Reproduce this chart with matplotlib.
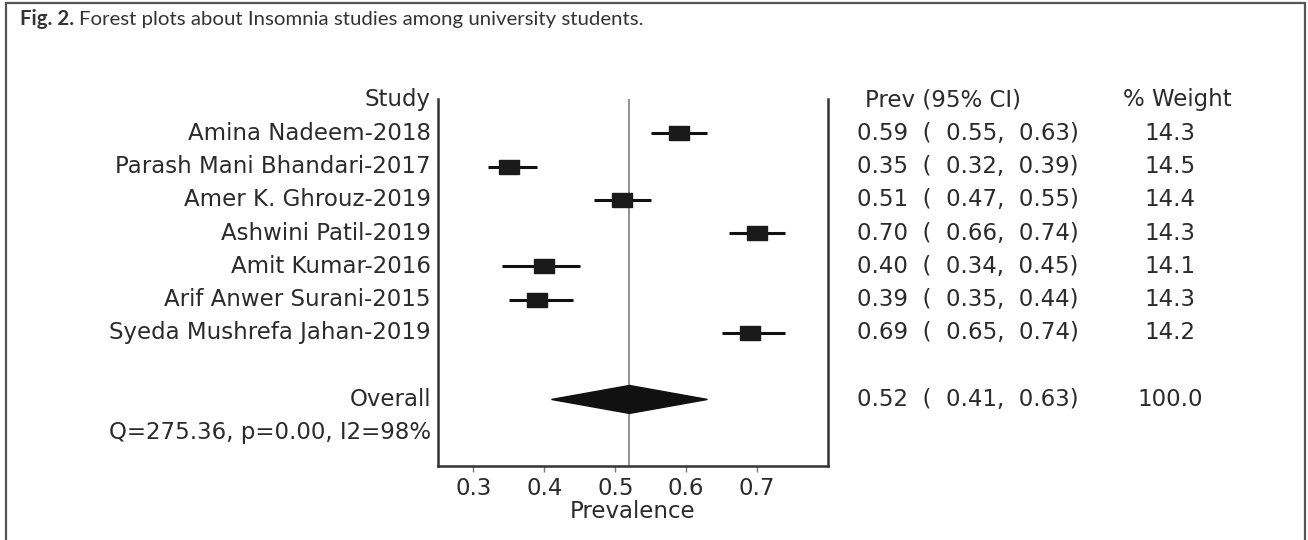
import matplotlib
matplotlib.use("Agg")
import matplotlib.pyplot as plt
from matplotlib.patches import Polygon, Rectangle
from matplotlib.transforms import blended_transform_factory

plt.rcParams["font.family"] = ["DejaVu Sans"]

# data
studies = ["Amina Nadeem-2018", "Parash Mani Bhandari-2017", "Amer K. Ghrouz-2019",
           "Ashwini Patil-2019", "Amit Kumar-2016", "Arif Anwer Surani-2015",
           "Syeda Mushrefa Jahan-2019"]
prev = [0.59, 0.35, 0.51, 0.70, 0.40, 0.39, 0.69]
ci_low = [0.55, 0.32, 0.47, 0.66, 0.34, 0.35, 0.65]
ci_high = [0.63, 0.39, 0.55, 0.74, 0.45, 0.44, 0.74]
weights = [14.3, 14.5, 14.4, 14.3, 14.1, 14.3, 14.2]
overall = 0.52
overall_low = 0.41
overall_high = 0.63
overall_weight = 100.0
het_text = "Q=275.36, p=0.00, I2=98%"
x_ticks = [0.3, 0.4, 0.5, 0.6, 0.7]

txt_col = "#2b2b2b"
fs = 16.5

fig = plt.figure(figsize=(13.08, 5.40), dpi=100)
ax = fig.add_axes([438 / 1308, 74 / 540, 390 / 1308, 367 / 540])

rows = list(range(1, len(studies) + 1))
overall_row = len(studies) + 2
het_row = overall_row + 1

# confidence intervals and the study squares (wider than tall, as in the picture)
box = [(-1.35, -1), (1.35, -1), (1.35, 1), (-1.35, 1), (-1.35, -1)]
ax.hlines(rows, ci_low, ci_high, color="#111111", lw=2.2, zorder=3)
ax.scatter(prev, rows, marker=box, s=19 ** 2 * 0.52, color="#1a1a1a", zorder=4)

# overall diamond
diamond = Polygon([(overall_low, overall_row), (overall, overall_row - 0.42),
                   (overall_high, overall_row), (overall, overall_row + 0.42)],
                  closed=True, color="#111111", zorder=4)
ax.add_patch(diamond)
ax.axvline(overall, color="#8a8a8a", lw=1.3, zorder=2)

ax.set_xlim(0.25, 0.80)
ax.set_ylim(11.0, -0.03)
ax.set_xticks(x_ticks)
ax.set_xticklabels([f"{v:.1f}" for v in x_ticks])
ax.set_yticks([])
ax.tick_params(axis="x", direction="out", length=4, width=1, color="#777777",
               labelsize=fs, labelcolor=txt_col, pad=4)
ax.set_xlabel("Prevalence", fontsize=fs, color=txt_col, labelpad=0)
ax.spines["top"].set_visible(False)
for s in ["left", "right", "bottom"]:
    ax.spines[s].set_linewidth(1.8)
    ax.spines[s].set_color("#333333")

# left labels and right-hand table
tr = blended_transform_factory(fig.transFigure, ax.transData)
lx = 431 / 1308
ax.text(lx, 0, "Study", transform=tr, ha="right", va="center", fontsize=fs, color=txt_col)
for r, name in zip(rows, studies):
    ax.text(lx, r, name, transform=tr, ha="right", va="center", fontsize=fs, color=txt_col)
ax.text(lx, overall_row, "Overall", transform=tr, ha="right", va="center", fontsize=fs, color=txt_col)
ax.text(lx, het_row, het_text, transform=tr, ha="right", va="center", fontsize=fs, color=txt_col)

cx = 857 / 1308
wx = 1170 / 1308
ax.text(865 / 1308, 0, "Prev (95% CI)", transform=tr, ha="left", va="center", fontsize=fs, color=txt_col)
ax.text(1177 / 1308, 0, "% Weight", transform=tr, ha="center", va="center", fontsize=fs, color=txt_col)
for r, p, lo, hi, w in zip(rows, prev, ci_low, ci_high, weights):
    ax.text(cx, r, f"{p:.2f}  (  {lo:.2f},  {hi:.2f})", transform=tr, ha="left",
            va="center", fontsize=fs, color=txt_col)
    ax.text(wx, r, f"{w:.1f}", transform=tr, ha="center", va="center", fontsize=fs, color=txt_col)
ax.text(cx, overall_row, f"{overall:.2f}  (  {overall_low:.2f},  {overall_high:.2f})",
        transform=tr, ha="left", va="center", fontsize=fs, color=txt_col)
ax.text(wx, overall_row, f"{overall_weight:.1f}", transform=tr, ha="center",
        va="center", fontsize=fs, color=txt_col)

# caption and frame
fig.add_artist(Rectangle((6 / 1308, -0.05), 1299 / 1308, 1.05 - 3 / 540,
                         transform=fig.transFigure, fill=False, lw=1.6, ec="#555555"))
t1 = fig.text(20 / 1308, 1 - 19 / 540, "Fig. 2.", fontsize=14.7, fontweight="bold",
              family="Lato", color="#333333", va="center")
fig.canvas.draw()
bb = t1.get_window_extent()
fig.text((bb.x1 + 5) / 1308, 1 - 19 / 540,
         "Forest plots about Insomnia studies among university students.",
         fontsize=14.7, family="Lato", color="#333333", va="center")

fig.savefig("out.png", dpi=100)
